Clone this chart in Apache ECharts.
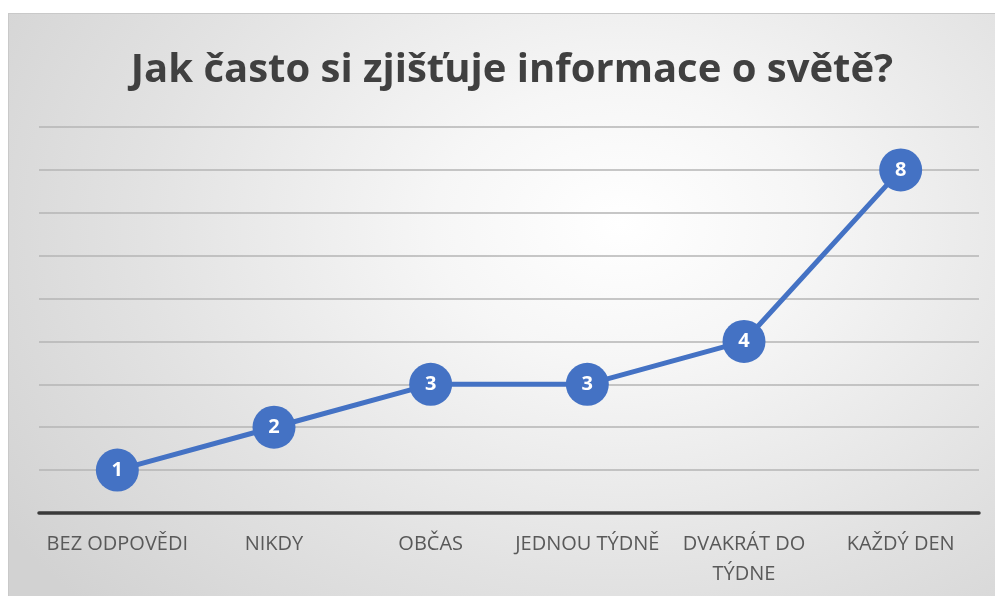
<!DOCTYPE html>
<html>
<head>
<meta charset="utf-8">
<script src="https://cdn.jsdelivr.net/npm/echarts@6/dist/echarts.min.js"></script>
<style>
  html, body { margin: 0; padding: 0; background: #fff; }
  #chart {
    position: absolute; left: 8px; top: 13px; width: 987px; height: 583px;
    box-sizing: border-box; border: 1px solid #c9c9c9; border-right: none; border-bottom: none;
    background: radial-gradient(ellipse 75% 95% at 62% 36%, #ffffff 0%, #f6f6f6 25%, #e2e2e2 65%, #d2d2d2 100%);
  }
</style>
</head>
<body>
<div id="chart"></div>
<script>
// kategorie a hodnoty
var categories = ['BEZ ODPOVĚDI', 'NIKDY', 'OBČAS', 'JEDNOU TÝDNĚ', 'DVAKRÁT DO\nTÝDNE', 'KAŽDÝ DEN'];
var values = [1, 2, 3, 3, 4, 8];
var titleText = 'Jak často si zjišťuje informace o světě?';

var myChart = echarts.init(document.getElementById('chart'));
myChart.setOption({
  backgroundColor: 'transparent',
  animation: false,
  title: {
    text: titleText,
    left: 498,
    top: 32,
    textAlign: 'center',
    textStyle: {
      color: '#404040',
      fontFamily: 'Open Sans',
      fontWeight: 'bold',
      fontSize: 40
    }
  },
  grid: { left: 30, right: 16, top: 113, bottom: 83, containLabel: false },
  xAxis: {
    type: 'category',
    data: categories,
    boundaryGap: true,
    axisLine: { lineStyle: { color: '#3a3a3a', width: 3.5 } },
    axisTick: { show: false },
    axisLabel: {
      interval: 0,
      margin: 16,
      color: '#595959',
      fontFamily: 'Open Sans',
      fontSize: 20,
      lineHeight: 30
    }
  },
  yAxis: {
    type: 'value',
    min: 0,
    max: 9,
    interval: 1,
    axisLine: { show: false },
    axisTick: { show: false },
    axisLabel: { show: false },
    splitLine: { lineStyle: { color: '#b4b4b4', width: 1.5 } }
  },
  series: [{
    type: 'line',
    data: values,
    symbol: 'circle',
    symbolSize: 43,
    lineStyle: { color: '#4472c4', width: 5 },
    itemStyle: { color: '#4472c4' },
    label: {
      show: true,
      position: 'inside',
      color: '#fff',
      fontFamily: 'Open Sans',
      fontWeight: 'bold',
      fontSize: 20
    }
  }]
});
</script>
</body>
</html>
